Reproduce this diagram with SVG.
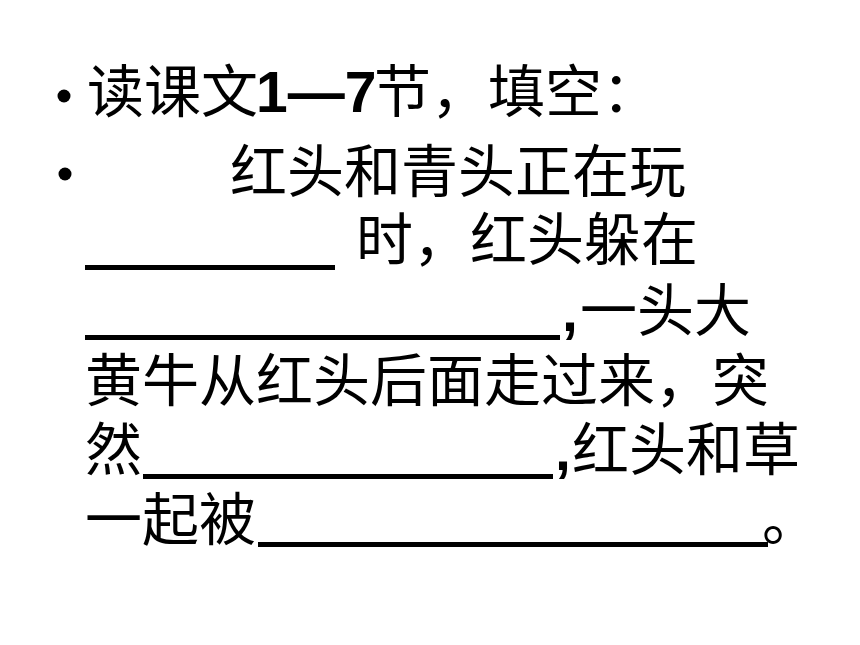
<svg xmlns="http://www.w3.org/2000/svg" width="860" height="645" viewBox="0 0 860 645">
<style>
.t{font-family:"Liberation Sans","Noto Sans CJK SC",sans-serif;font-size:57px;fill:#000}
.c{font-family:"Noto Sans CJK SC",sans-serif;font-size:57px;fill:#000}
.b{font-family:"Liberation Sans",sans-serif;font-size:57px;font-weight:bold;fill:#000}
.u{fill:#000}
</style>
<rect width="860" height="645" fill="#fff"/>
<g id="bullets">
<circle cx="64" cy="96" r="6.5" fill="#000"/>
<circle cx="65" cy="174" r="6.5" fill="#000"/>
</g>
<g id="line1">
<text class="c" x="87" y="112">读课文</text>
<text class="b" x="256" y="112">1—7</text>
<text class="c" x="374" y="112">节，填空：</text>
</g>
<g id="line2">
<text class="c" x="230" y="192">红头和青头正在玩</text>
</g>
<g id="line3">
<rect class="u" x="85" y="265" width="250" height="5"/>
<text class="c" x="356" y="260">时，红头躲在</text>
</g>
<g id="line4">
<rect class="u" x="85" y="335" width="475" height="5"/>
<text class="b" x="562" y="331">,</text>
<text class="c" x="580" y="331">一头大</text>
</g>
<g id="line5">
<text class="c" x="85" y="401">黄牛从红头后面走过来，突</text>
</g>
<g id="line6">
<text class="c" x="85" y="470">然</text>
<rect class="u" x="143" y="474" width="410" height="5"/>
<text class="b" x="555" y="470">,</text>
<text class="c" x="572" y="470">红头和草</text>
</g>
<g id="line7">
<text class="c" x="85" y="540">一起被</text>
<rect class="u" x="258" y="542" width="510" height="5"/>
<text class="c" x="762" y="540">。</text>
</g>
</svg>
